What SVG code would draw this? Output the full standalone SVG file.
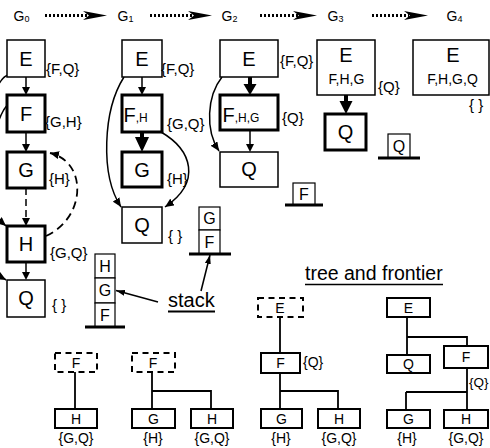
<svg xmlns="http://www.w3.org/2000/svg" width="490" height="448" viewBox="0 0 490 448">
<style>
text{font-family:"Liberation Sans",Arial,sans-serif;fill:#000}
.hd{font-size:14px}
.sub{font-size:9px}
.nl{font-size:20px;text-anchor:middle}
.lab{font-size:15px}
.sm{font-size:14px;text-anchor:middle}
.stk{font-size:16px;text-anchor:middle}
.tl{font-size:14px;text-anchor:middle}
.big{font-size:20px}
.thin{fill:#fff;stroke:#000;stroke-width:1.5}
.thick{fill:#fff;stroke:#000;stroke-width:3}
.sb{fill:#fff;stroke:#000;stroke-width:1.2}
.tb{fill:#fff;stroke:#000;stroke-width:2}
.db{fill:#fff;stroke:#000;stroke-width:2;stroke-dasharray:6 4.5}
.ln{fill:none;stroke:#000;stroke-width:1.5}
.bln{fill:none;stroke:#000;stroke-width:4}
.tln{fill:none;stroke:#000;stroke-width:1.8}
.base{stroke:#000;stroke-width:3}
.dot{stroke:#000;stroke-width:3;stroke-dasharray:2 2}
.dash{fill:none;stroke:#000;stroke-width:1.8;stroke-dasharray:8 5}
</style>
<defs>
<marker id="ah" viewBox="0 0 9 8" refX="9" refY="4" markerWidth="9" markerHeight="8" markerUnits="userSpaceOnUse" orient="auto"><path d="M0,0 L9,4 L0,8 z"/></marker>
<marker id="as" viewBox="0 0 9 6" refX="9" refY="3" markerWidth="9" markerHeight="6" markerUnits="userSpaceOnUse" orient="auto"><path d="M0,0 L9,3 L0,6 z"/></marker>
</defs>

<g id="header">
<text class="hd" x="13.5" y="21">G<tspan class="sub" dy="1">0</tspan></text>
<text class="hd" x="117.5" y="21">G<tspan class="sub" dy="1">1</tspan></text>
<text class="hd" x="221.5" y="21">G<tspan class="sub" dy="1">2</tspan></text>
<text class="hd" x="327.5" y="21">G<tspan class="sub" dy="1">3</tspan></text>
<text class="hd" x="446.5" y="21">G<tspan class="sub" dy="1">4</tspan></text>
<line class="dot" x1="45" y1="15.5" x2="88" y2="15.5"/>
<polygon points="83,11 107,15.5 83,20 89,15.5"/>
<line class="dot" x1="150" y1="15.5" x2="193" y2="15.5"/>
<polygon points="188,11 212,15.5 188,20 194,15.5"/>
<line class="dot" x1="260" y1="15.5" x2="298" y2="15.5"/>
<polygon points="293,11 317,15.5 293,20 299,15.5"/>
<line class="dot" x1="372" y1="15.5" x2="409" y2="15.5"/>
<polygon points="404,11 428,15.5 404,20 410,15.5"/>
</g>

<g id="connectors">
<line class="ln" x1="26" y1="77" x2="26" y2="88"/><polygon points="22,87 30,87 26,95"/>
<line class="ln" x1="26" y1="132" x2="26" y2="145"/><polygon points="22,144 30,144 26,152"/>
<line class="ln" x1="26" y1="188" x2="26" y2="219" stroke-dasharray="7 4"/><polygon points="22,218 30,218 26,226"/>
<line class="ln" x1="26" y1="262" x2="26" y2="273"/><polygon points="22,272 30,272 26,280"/>
<path class="dash" d="M46,236 C86,218 88,162 50,153" marker-end="url(#ah)"/>
<path class="ln" d="M8,75 C-22,85 -26,262 6,280" marker-end="url(#ah)"/>
<path class="ln" d="M8,104 C-10,124 -22,202 6,226" marker-end="url(#ah)"/>
<line class="ln" x1="142" y1="77" x2="142" y2="88"/><polygon points="138,87 146,87 142,95"/>
<line class="bln" x1="142" y1="132" x2="142" y2="139"/><polygon points="135,137 149,137 142,152"/>
<path class="ln" d="M124,77 C103,110 100,175 121,207" marker-end="url(#ah)"/>
<path class="ln" d="M161,132 C192,150 202,182 165,207" marker-end="url(#ah)"/>
<line class="bln" x1="250" y1="77" x2="250" y2="85"/><polygon points="243.5,84 256.5,84 250,95"/>
<line class="ln" x1="250" y1="130" x2="250" y2="145"/><polygon points="246,144 254,144 250,152"/>
<path class="ln" d="M222,77 C207,96 205,130 219,151" marker-end="url(#ah)"/>
<line class="bln" x1="346" y1="95" x2="346" y2="103"/><polygon points="339.5,101 352.5,101 346,114"/>
<line class="ln" x1="158" y1="302" x2="116" y2="290.5" marker-end="url(#as)"/>
<line class="ln" x1="201" y1="291" x2="210" y2="255" marker-end="url(#as)"/>
<path class="tln" d="M75,372 V409"/>
<path class="tln" d="M152,372 V409 M152,391 H211 V409"/>
<path class="tln" d="M280,317 V353 M280,373 V409 M280,391 H338 V409"/>
<path class="tln" d="M407,317 V355 M407,337 H467 V346 M467,368 V410 M406,392 H467 M406,392 V410"/>
</g>

<g id="g0">
<g id="g0-E"><rect class="thin" x="7" y="40" width="38" height="37"/><text class="nl" x="26" y="66">E</text><text class="lab" x="46" y="74">{F,Q}</text></g>
<g id="g0-F"><rect class="thick" x="7" y="95" width="38" height="37"/><text class="nl" x="26" y="121">F</text><text class="lab" x="45" y="127">{G,H}</text></g>
<g id="g0-G"><rect class="thick" x="7" y="152" width="38" height="36"/><text class="nl" x="26" y="177">G</text><text class="lab" x="49" y="184">{H}</text></g>
<g id="g0-H"><rect class="thick" x="7" y="226" width="38" height="36"/><text class="nl" x="26" y="251">H</text><text class="lab" x="50" y="258">{G,Q}</text></g>
<g id="g0-Q"><rect class="thin" x="7" y="280" width="38" height="37"/><text class="nl" x="26" y="305">Q</text><text class="lab" x="52" y="310">{ }</text></g>
</g>

<g id="g1">
<g id="g1-E"><rect class="thin" x="122" y="40" width="40" height="37"/><text class="nl" x="142" y="66">E</text><text class="lab" x="161" y="74">{F,Q}</text></g>
<g id="g1-F"><rect class="thick" x="122" y="95" width="40" height="37"/><text class="big" x="123.5" y="122">F<tspan font-size="12">,H</tspan></text><text class="lab" x="167" y="129">{G,Q}</text></g>
<g id="g1-G"><rect class="thick" x="122" y="152" width="40" height="35"/><text class="nl" x="142" y="177">G</text><text class="lab" x="167" y="184">{H}</text></g>
<g id="g1-Q"><rect class="thin" x="122" y="207" width="40" height="36"/><text class="nl" x="142" y="232">Q</text><text class="lab" x="168" y="241">{ }</text></g>
</g>

<g id="g2">
<g id="g2-E"><rect class="thin" x="220" y="40" width="58" height="37"/><text class="nl" x="249" y="66">E</text><text class="lab" x="280" y="66">{F,Q}</text></g>
<g id="g2-F"><rect class="thick" x="220" y="95" width="58" height="35"/><text class="big" x="222.5" y="122">F<tspan font-size="12">,H,G</tspan></text><text class="lab" x="282" y="123">{Q}</text></g>
<g id="g2-Q"><rect class="thin" x="220" y="152" width="58" height="35"/><text class="nl" x="249" y="176">Q</text></g>
</g>

<g id="g3">
<g id="g3-E"><rect class="thin" x="317" y="40" width="58" height="55"/><text class="nl" x="346" y="62">E</text><text class="sm" x="346.5" y="84">F,H,G</text><text class="lab" x="378" y="92">{Q}</text></g>
<g id="g3-Q"><rect class="thick" x="325" y="114" width="41" height="36"/><text class="nl" x="345.5" y="139">Q</text></g>
</g>

<g id="g4">
<g id="g4-E"><rect class="thin" x="413" y="40" width="76" height="55"/><text class="nl" x="453" y="62">E</text><text class="sm" x="452.5" y="84">F,H,G,Q</text><text class="lab" x="469" y="110">{ }</text></g>
</g>

<g id="stacks">
<g id="stack0"><rect class="sb" x="95" y="254" width="20" height="24"/><rect class="sb" x="95" y="278" width="20" height="25"/><rect class="sb" x="95" y="303" width="20" height="24"/><line class="base" x1="85" y1="327" x2="125" y2="327"/><text class="stk" x="105" y="272">H</text><text class="stk" x="105" y="296">G</text><text class="stk" x="105" y="321">F</text></g>
<g id="stack1"><rect class="sb" x="199" y="207" width="21" height="23"/><rect class="sb" x="199" y="230" width="21" height="24"/><line class="base" x1="189" y1="254" x2="231" y2="254"/><text class="stk" x="209.5" y="224">G</text><text class="stk" x="209.5" y="248">F</text></g>
<g id="stack2"><rect class="sb" x="293" y="183" width="22" height="22"/><line class="base" x1="285" y1="205" x2="323" y2="205"/><text class="stk" x="304" y="200">F</text></g>
<g id="stack3"><rect class="sb" x="388" y="134" width="22" height="24"/><line class="base" x1="378" y1="158" x2="420" y2="158"/><text class="stk" x="399" y="152">Q</text></g>
<g id="stack-label"><text x="168" y="307" font-size="20">stack</text><line x1="168" y1="311.5" x2="215" y2="311.5" stroke="#000" stroke-width="1.8"/></g>
</g>

<g id="trees">
<g id="tree-title"><text x="305" y="280" font-size="19.5">tree and frontier</text><line x1="305" y1="284.5" x2="443" y2="284.5" stroke="#000" stroke-width="1.5"/></g>
<g id="t1-F"><rect class="db" x="55" y="353" width="42" height="19"/><text class="tl" x="76" y="367.5">F</text></g>
<g id="t1-H"><rect class="tb" x="55" y="409" width="42" height="19"/><text class="tl" x="76" y="423.5">H</text><text class="tl" x="76" y="443">{G,Q}</text></g>
<g id="t2-F"><rect class="db" x="132" y="353" width="43" height="19"/><text class="tl" x="153" y="367.5">F</text></g>
<g id="t2-G"><rect class="tb" x="132" y="409" width="43" height="19"/><text class="tl" x="153.5" y="423.5">G</text><text class="tl" x="153" y="443">{H}</text></g>
<g id="t2-H"><rect class="tb" x="191" y="409" width="42" height="19"/><text class="tl" x="212" y="423.5">H</text><text class="tl" x="212" y="443">{G,Q}</text></g>
<g id="t3-E"><rect class="db" x="258" y="298" width="45" height="19"/><text class="tl" x="280" y="312.5">E</text></g>
<g id="t3-F"><rect class="tb" x="261" y="353" width="39" height="20"/><text class="tl" x="280.5" y="368">F</text><text x="303" y="367" font-size="14">{Q}</text></g>
<g id="t3-G"><rect class="tb" x="261" y="409" width="41" height="19"/><text class="tl" x="281.5" y="423.5">G</text><text class="tl" x="281" y="443">{H}</text></g>
<g id="t3-H"><rect class="tb" x="318" y="409" width="42" height="19"/><text class="tl" x="339" y="423.5">H</text><text class="tl" x="339" y="443">{G,Q}</text></g>
<g id="t4-E"><rect class="tb" x="387" y="298" width="43" height="19"/><text class="tl" x="408.5" y="312.5">E</text></g>
<g id="t4-Q"><rect class="tb" x="387" y="355" width="43" height="18"/><text class="tl" x="408.5" y="369">Q</text></g>
<g id="t4-F"><rect class="tb" x="444" y="346" width="44" height="22"/><text class="tl" x="466" y="362">F</text><text x="469" y="387" font-size="13.5">{Q}</text></g>
<g id="t4-G"><rect class="tb" x="387" y="410" width="43" height="18"/><text class="tl" x="408.5" y="424">G</text><text class="tl" x="407" y="443">{H}</text></g>
<g id="t4-H"><rect class="tb" x="444" y="410" width="44" height="18"/><text class="tl" x="466" y="424">H</text><text class="tl" x="466" y="443">{G,Q}</text></g>
</g>
</svg>
